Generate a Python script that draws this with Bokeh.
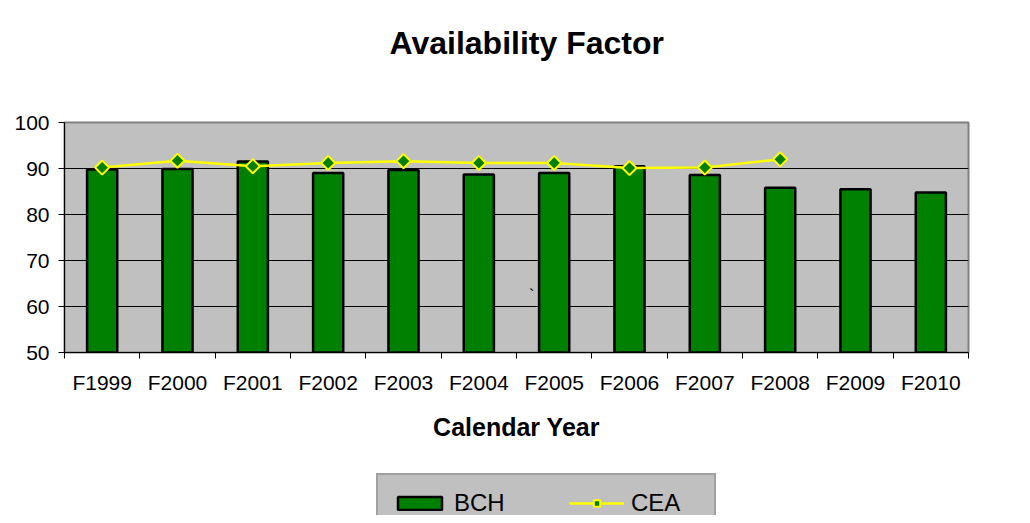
import math
from bokeh.plotting import figure
from bokeh.layouts import column
from bokeh.models import Range1d, FixedTicker, Legend, LegendItem, Label
from bokeh.embed import file_html
from bokeh.resources import INLINE

categories = ["F1999", "F2000", "F2001", "F2002", "F2003", "F2004",
              "F2005", "F2006", "F2007", "F2008", "F2009", "F2010"]
bch = [89.8, 89.9, 91.5, 89.0, 89.7, 88.7, 89.0, 90.5, 88.6, 85.8, 85.5, 84.8]
cea = [90.2, 91.7, 90.5, 91.2, 91.6, 91.2, 91.2, 90.1, 90.2, 92.0]
y_ticks = [50, 60, 70, 80, 90, 100]

FONT = "Liberation Sans"
W = 1022
GREEN = "#008000"
YELLOW = "#FFFF00"

x_pos = list(range(len(categories)))
cea_pos = x_pos[:len(cea)]

# ---- title strip ----
pt = figure(width=W, height=100, output_backend="svg", toolbar_location=None,
            x_range=Range1d(0, 1), y_range=Range1d(0, 1),
            x_axis_location=None, y_axis_location=None, min_border=0,
            background_fill_color="white", border_fill_color="white")
pt.outline_line_color = None
pt.grid.visible = False
pt.title.text = "Availability Factor"
pt.title.text_font = FONT
pt.title.text_font_size = "32px"
pt.title.text_font_style = "bold"
pt.title.text_color = "black"
pt.title.align = "left"
pt.title.standoff = 45
pt.title.offset = 325

# ---- main chart ----
p = figure(width=W, height=366, output_backend="svg", toolbar_location=None,
           x_range=Range1d(-0.5, len(categories) - 0.5), y_range=Range1d(50, 100),
           min_border_left=64, min_border_right=54, min_border_top=22, min_border_bottom=114,
           background_fill_color="#C0C0C0", border_fill_color="white")
p.frame_width = 904
p.frame_height = 230
p.outline_line_color = "#808080"
p.outline_line_width = 2

p.vbar(x=x_pos, top=bch, bottom=0, width=0.4, fill_color=GREEN,
       line_color="black", line_width=2.5)
p.line(x=cea_pos, y=cea, line_color=YELLOW, line_width=2.5)
p.scatter(x=cea_pos, y=cea, marker="square", angle=math.pi / 4, size=10,
          fill_color=GREEN, line_color=YELLOW, line_width=2)

xa = p.xaxis[0]
xa.ticker = FixedTicker(ticks=x_pos, minor_ticks=[i - 0.5 for i in range(len(categories) + 1)])
xa.major_label_overrides = {i: c for i, c in zip(x_pos, categories)}
xa.major_tick_out = 0
xa.major_tick_in = 0
xa.minor_tick_out = 6
xa.minor_tick_in = 0
xa.minor_tick_line_color = "black"
xa.axis_line_color = "black"
xa.major_label_text_font = FONT
xa.major_label_text_font_size = "21px"
xa.major_label_text_color = "black"
xa.major_label_standoff = 12
xa.axis_label = "Calendar Year"
xa.axis_label_text_font = FONT
xa.axis_label_text_font_size = "25px"
xa.axis_label_text_font_style = "bold"
xa.axis_label_text_color = "black"
xa.axis_label_standoff = 16

ya = p.yaxis[0]
ya.ticker = FixedTicker(ticks=y_ticks)
ya.major_tick_out = 6
ya.major_tick_in = 0
ya.minor_tick_out = 0
ya.minor_tick_in = 0
ya.axis_line_color = "black"
ya.major_tick_line_color = "black"
ya.major_label_text_font = FONT
ya.major_label_text_font_size = "21px"
ya.major_label_text_color = "black"
ya.major_label_standoff = 9

p.xgrid.visible = False
p.ygrid.ticker = FixedTicker(ticks=y_ticks[1:-1])
p.ygrid.grid_line_color = "black"
p.ygrid.grid_line_width = 1

p.add_layout(Label(x=5.7, y=62.4, text="`", text_font=FONT, text_font_size="16px",
                   text_align="center", text_baseline="middle", text_color="black"))

# ---- legend strip (hidden copies of the series; only their legend entries show) ----
pl = figure(width=W, height=49, output_backend="svg", toolbar_location=None,
            x_range=Range1d(-0.5, len(categories) - 0.5), y_range=Range1d(50, 100),
            x_axis_location=None, y_axis_location=None, min_border=0,
            background_fill_color="white", border_fill_color="white")
pl.outline_line_color = None
pl.grid.visible = False
lb = pl.vbar(x=x_pos, top=bch, width=0.4, fill_color=GREEN, line_color="black",
             line_width=2.5, visible=False)
ll = pl.line(x=cea_pos, y=cea, line_color=YELLOW, line_width=2.5, visible=False)
lm = pl.scatter(x=cea_pos, y=cea, marker="square", angle=math.pi / 4, size=10,
                fill_color=GREEN, line_color=YELLOW, line_width=2, visible=False)
legend = Legend(items=[LegendItem(label="BCH", renderers=[lb]),
                       LegendItem(label="CEA", renderers=[ll, lm])],
                orientation="horizontal", location=(312, -18),
                background_fill_color="#C0C0C0", background_fill_alpha=1,
                border_line_color="#808080", border_line_width=2,
                inactive_fill_alpha=0,
                label_text_font=FONT, label_text_font_size="24px",
                label_text_color="black",
                glyph_width=55, glyph_height=16, label_standoff=7,
                label_width=69, spacing=46, padding=14, margin=0)
pl.add_layout(legend)

layout = column(pt, p, pl, spacing=0)
open("out.html", "w").write(file_html(layout, INLINE))
